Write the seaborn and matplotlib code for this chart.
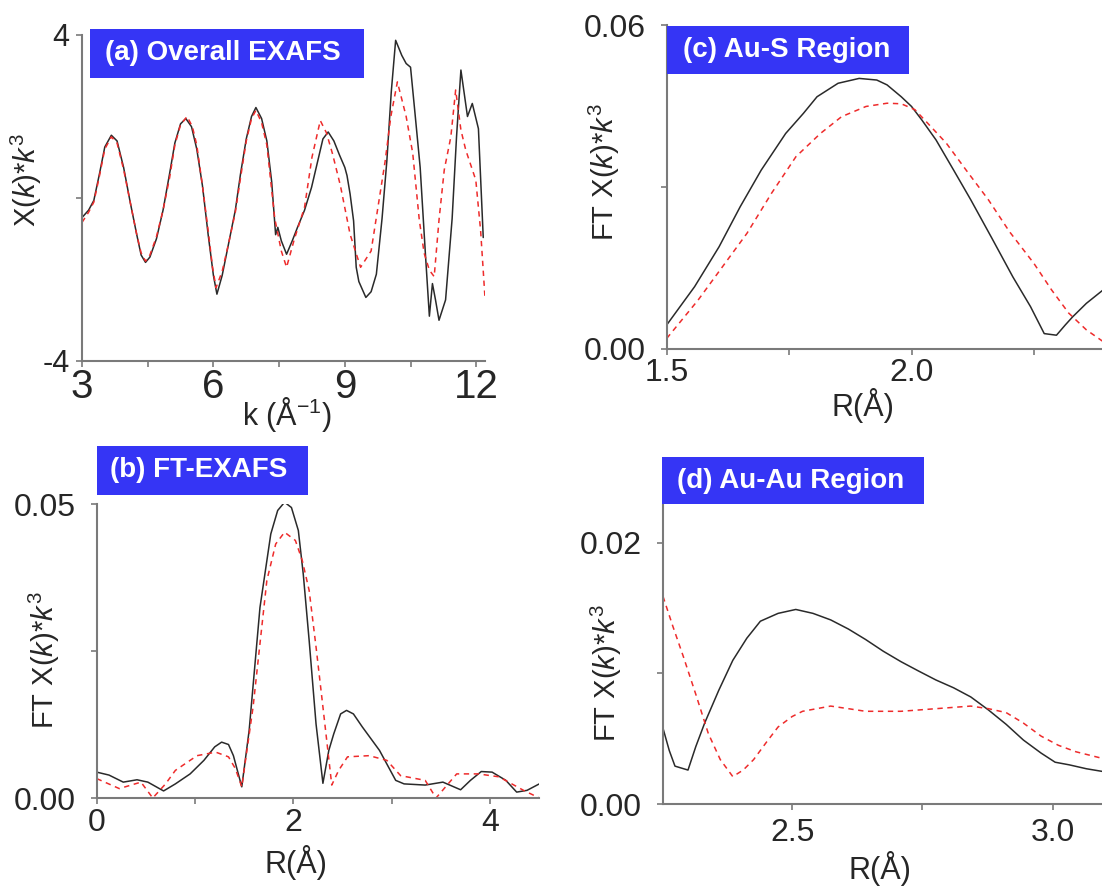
import numpy as np
import pandas as pd
import matplotlib
matplotlib.use("Agg")
import matplotlib.pyplot as plt
import seaborn as sns
from matplotlib.patches import Rectangle

# ---------------- data ----------------
# (a) Overall EXAFS : k (1/Å) vs chi(k)*k^3
a_exp_k = [3.0, 3.15, 3.27, 3.4, 3.52, 3.67, 3.8, 3.95, 4.1, 4.25, 4.35, 4.45, 4.55, 4.7, 4.85,
           5.0, 5.12, 5.25, 5.37, 5.5, 5.62, 5.75, 5.88, 6.0, 6.08, 6.2, 6.35, 6.5, 6.62, 6.75,
           6.87, 6.97, 7.1, 7.22, 7.33, 7.42, 7.47, 7.55, 7.67, 7.8, 7.92, 8.08, 8.24, 8.38, 8.5,
           8.62, 8.75, 8.88, 9.0, 9.05, 9.12, 9.2, 9.26, 9.32, 9.48, 9.6, 9.72, 9.85, 9.96, 10.06,
           10.16, 10.3, 10.4, 10.5, 10.6, 10.72, 10.84, 10.93, 11.0, 11.07, 11.15, 11.3, 11.45,
           11.55, 11.65, 11.8, 11.91, 12.05, 12.16]
a_exp_y = [-0.48, -0.3, -0.06, 0.6, 1.25, 1.54, 1.4, 0.75, -0.1, -0.9, -1.4, -1.58, -1.45, -1.0, -0.3,
           0.6, 1.35, 1.82, 1.95, 1.75, 1.2, 0.3, -0.9, -1.9, -2.36, -1.9, -1.1, -0.3, 0.6, 1.45,
           2.0, 2.22, 1.95, 1.4, 0.4, -0.9, -0.72, -1.05, -1.38, -1.05, -0.72, -0.3, 0.26, 0.9, 1.45,
           1.62, 1.4, 1.05, 0.75, 0.55, 0.1, -0.56, -1.7, -2.05, -2.44, -2.3, -1.87, -0.5, 0.92, 2.6,
           3.87, 3.5, 3.3, 3.21, 2.1, 0.75, -1.38, -2.9, -2.1, -2.5, -3.0, -2.5, -0.5,
           1.5, 3.14, 2.0, 2.32, 1.7, -0.97]
a_fit_k = [3.0, 3.15, 3.27, 3.4, 3.52, 3.67, 3.8, 3.95, 4.1, 4.25, 4.35, 4.45, 4.55, 4.7, 4.85,
           5.0, 5.12, 5.25, 5.4, 5.52, 5.62, 5.75, 5.88, 5.98, 6.06, 6.2, 6.35, 6.5, 6.62, 6.75,
           6.87, 6.97, 7.1, 7.22, 7.4, 7.55, 7.67, 7.85, 8.08, 8.25, 8.44, 8.58, 8.72, 8.9, 9.12,
           9.36, 9.6, 9.92, 10.05, 10.2, 10.4, 10.55, 10.7, 10.81, 10.93, 11.04, 11.15, 11.27,
           11.42, 11.53, 11.65, 11.76, 11.99, 12.1, 12.2]
a_fit_y = [-0.6, -0.35, -0.1, 0.55, 1.2, 1.5, 1.35, 0.7, -0.1, -0.9, -1.35, -1.55, -1.4, -0.95, -0.3,
           0.5, 1.3, 1.8, 2.0, 1.75, 1.3, 0.3, -0.8, -1.7, -2.2, -1.8, -1.1, -0.35, 0.5, 1.4,
           1.95, 2.15, 1.85, 1.3, -0.5, -1.3, -1.7, -1.0, -0.23, 1.0, 1.9, 1.6, 1.08, 0.3, -0.89,
           -1.7, -1.3, 0.9, 2.0, 2.85, 2.0, 1.1, -0.54, -1.35, -1.77, -1.93, -0.54, 0.69,
           1.5, 2.65, 1.67, 1.18, 0.44, -0.8, -2.45]

# (b) FT-EXAFS : R (Å) vs |FT|
b_exp_r = [0.0, 0.125, 0.27, 0.41, 0.52, 0.68, 0.8, 0.95, 1.09, 1.2, 1.27, 1.34, 1.39, 1.475, 1.55,
           1.66, 1.77, 1.84, 1.91, 1.98, 2.05, 2.1, 2.16, 2.23, 2.30, 2.36, 2.41, 2.48, 2.54, 2.61,
           2.70, 2.875, 3.04, 3.125, 3.34, 3.52, 3.70, 3.80, 3.91, 4.02, 4.16, 4.27, 4.375, 4.5]
b_exp_y = [0.0044, 0.0039, 0.0027, 0.0031, 0.0027, 0.0012, 0.0024, 0.0041, 0.0064, 0.0087, 0.0095,
           0.0091, 0.0072, 0.0019, 0.0115, 0.0324, 0.0449, 0.0489, 0.0503, 0.0494, 0.0455, 0.0381,
           0.0268, 0.0126, 0.0025, 0.0081, 0.0109, 0.0143, 0.0149, 0.0143, 0.0121, 0.0081, 0.003,
           0.0024, 0.0022, 0.0027, 0.0014, 0.003, 0.0045, 0.0044, 0.003, 0.001, 0.0013, 0.0024]
b_fit_r = [0.0, 0.23, 0.45, 0.57, 0.70, 0.8, 1.02, 1.21, 1.34, 1.41, 1.475, 1.59, 1.73, 1.82, 1.91,
           2.02, 2.09, 2.16, 2.23, 2.30, 2.39, 2.46, 2.55, 2.77, 2.95, 3.09, 3.34, 3.45, 3.66, 3.88,
           4.09, 4.34, 4.5]
b_fit_y = [0.0033, 0.0016, 0.0027, 0.0, 0.0024, 0.0047, 0.0072, 0.0078, 0.007, 0.005, 0.0019, 0.0155,
           0.037, 0.0432, 0.0452, 0.0438, 0.0404, 0.0353, 0.0257, 0.0155, 0.0022, 0.0047, 0.007,
           0.0072, 0.0064, 0.0038, 0.003, 0.0, 0.0041, 0.0041, 0.0036, 0.0013, 0.0]

# (c) Au-S region
c_exp_r = [1.5, 1.557, 1.607, 1.65, 1.693, 1.743, 1.779, 1.807, 1.85, 1.893, 1.929, 1.95, 1.979, 2.0,
           2.021, 2.05, 2.086, 2.121, 2.164, 2.207, 2.243, 2.271, 2.296, 2.314, 2.329, 2.357, 2.39]
c_exp_y = [0.0044, 0.0115, 0.0189, 0.0263, 0.0331, 0.0399, 0.0436, 0.0467, 0.0492, 0.0501, 0.0498,
           0.0489, 0.0467, 0.0449, 0.0424, 0.0387, 0.0331, 0.0276, 0.0205, 0.0133, 0.0078, 0.0028,
           0.0025, 0.0044, 0.0059, 0.0084, 0.0108]
c_fit_r = [1.5, 1.564, 1.614, 1.664, 1.714, 1.764, 1.814, 1.857, 1.907, 1.95, 1.979, 2.007, 2.036,
           2.071, 2.114, 2.157, 2.2, 2.25, 2.286, 2.321, 2.357, 2.39]
c_fit_y = [0.0019, 0.009, 0.0152, 0.0214, 0.0288, 0.0356, 0.0399, 0.043, 0.0449, 0.0455, 0.0454,
           0.0443, 0.0415, 0.0381, 0.0328, 0.0276, 0.0217, 0.0158, 0.0109, 0.0066, 0.0035, 0.0014]

# (d) Au-Au region
d_exp_r = [2.252, 2.264, 2.275, 2.30, 2.315, 2.332, 2.359, 2.386, 2.413, 2.439, 2.473, 2.507, 2.54,
           2.574, 2.608, 2.641, 2.675, 2.709, 2.742, 2.776, 2.81, 2.843, 2.877, 2.911, 2.944, 2.978,
           3.005, 3.032, 3.065, 3.095]
d_exp_y = [0.0058, 0.0041, 0.0029, 0.0026, 0.0044, 0.0062, 0.0087, 0.011, 0.0127, 0.014, 0.0146,
           0.0149, 0.0146, 0.0141, 0.0134, 0.0126, 0.0117, 0.0109, 0.0102, 0.0095, 0.0089, 0.0082,
           0.0072, 0.0061, 0.0049, 0.0039, 0.0032, 0.003, 0.0027, 0.0025]
d_fit_r = [2.252, 2.271, 2.291, 2.315, 2.339, 2.362, 2.386, 2.406, 2.426, 2.45, 2.473, 2.5, 2.52,
           2.547, 2.574, 2.608, 2.641, 2.709, 2.776, 2.843, 2.877, 2.911, 2.944, 2.978, 3.011,
           3.045, 3.095]
d_fit_y = [0.0159, 0.0136, 0.0113, 0.0084, 0.0054, 0.0034, 0.0021, 0.0026, 0.0034, 0.0047, 0.0059,
           0.0067, 0.0071, 0.0073, 0.0075, 0.0073, 0.0071, 0.0071, 0.0073, 0.0075, 0.0073, 0.007,
           0.0062, 0.0052, 0.0045, 0.004, 0.0035]

panel_titles = ["(a) Overall EXAFS", "(b) FT-EXAFS", "(c) Au-S Region", "(d) Au-Au Region"]

# ---------------- style ----------------
sns.set_style("ticks")
plt.rcParams['font.family'] = ['Liberation Sans', 'DejaVu Sans']
plt.rcParams['mathtext.fontset'] = 'custom'
plt.rcParams['mathtext.rm'] = 'Liberation Sans'
plt.rcParams['mathtext.it'] = 'Liberation Sans:italic'
plt.rcParams['mathtext.bf'] = 'Liberation Sans:bold'

EXP_C = '#2a2a2a'
FIT_C = '#ee2b2b'
SPINE_C = '#7a7a7a'
BOX_C = '#3535f5'

W, H = 1102.0, 888.0
fig = plt.figure(figsize=(11.02, 8.88), dpi=100)


def add_ax(l, t, r, b):
    return fig.add_axes([l / W, 1 - b / H, (r - l) / W, (b - t) / H])


axA = add_ax(82, 35, 485, 361)
axB = add_ax(96.7, 504, 539.3, 798)
axC = add_ax(666.7, 25, 1102, 348.7)
axD = add_ax(663, 505, 1102, 804)

pairs = [
    (axA, a_exp_k, a_exp_y, a_fit_k, a_fit_y),
    (axB, b_exp_r, b_exp_y, b_fit_r, b_fit_y),
    (axC, c_exp_r, c_exp_y, c_fit_r, c_fit_y),
    (axD, d_exp_r, d_exp_y, d_fit_r, d_fit_y),
]
for ax, xe, ye, xf, yf in pairs:
    sns.lineplot(x=xe, y=ye, ax=ax, color=EXP_C, linewidth=1.1, estimator=None, sort=False)
    sns.lineplot(x=xf, y=yf, ax=ax, color=FIT_C, linewidth=1.1, estimator=None, sort=False,
                 linestyle=(0, (3.5, 3)))
    for s in ['top', 'right']:
        ax.spines[s].set_visible(False)
    for s in ['left', 'bottom']:
        ax.spines[s].set_color(SPINE_C)
        ax.spines[s].set_linewidth(1.5)
    ax.tick_params(which='both', direction='out', length=4, width=1.2, color=SPINE_C)
    ax.set_facecolor('none')

ylab = "X(" + r"$\mathit{k}$" + ")*" + r"$\mathit{k}^{3}$"
ftlab = "FT X(" + r"$\mathit{k}$" + ")*" + r"$\mathit{k}^{3}$"

# panel a
axA.set_xlim(3, 12.2)
axA.set_ylim(-4, 4)
axA.set_xticks([3, 6, 9, 12])
axA.set_xticks([4.5, 7.5, 10.5], minor=True)
axA.set_yticks([-4, 0, 4])
axA.set_yticklabels(['-4', '', '4'])
axA.tick_params(axis='x', labelsize=29, pad=1)
axA.tick_params(axis='y', labelsize=22, pad=5)
axA.set_xlabel(r"k (Å$^{\mathregular{-1}}$)", fontsize=22)
axA.xaxis.set_label_coords(0.51, -0.105)
axA.set_ylabel(ylab, fontsize=21)
axA.yaxis.set_label_coords(-0.095, 0.555)

# panel b
axB.set_xlim(0, 4.5)
axB.set_ylim(0, 0.05)
axB.set_xticks([0, 2, 4])
axB.set_xticks([1, 3], minor=True)
axB.set_yticks([0, 0.025, 0.05])
axB.set_yticklabels(['0.00', '', '0.05'])
axB.tick_params(axis='both', labelsize=23)
axB.tick_params(axis='y', pad=11)
axB.tick_params(axis='x', pad=3)
axB.set_xlabel("R(Å)", fontsize=22)
axB.xaxis.set_label_coords(0.45, -0.16)
axB.set_ylabel(ftlab, fontsize=21)
axB.yaxis.set_label_coords(-0.079, 0.469)

# panel c
axC.set_xlim(1.5, 2.389)
axC.set_ylim(0, 0.06)
axC.set_xticks([1.5, 2.0])
axC.set_xticklabels(['1.5', '2.0'])
axC.set_xticks([1.75, 2.25], minor=True)
axC.set_yticks([0, 0.03, 0.06])
axC.set_yticklabels(['0.00', '', '0.06'])
axC.tick_params(axis='both', labelsize=23)
axC.tick_params(axis='y', pad=11)
axC.tick_params(axis='x', pad=3)
axC.set_xlabel("R(Å)", fontsize=22)
axC.xaxis.set_label_coords(0.451, -0.122)
axC.set_ylabel(ftlab, fontsize=21)
axC.yaxis.set_label_coords(-0.103, 0.546)

# panel d
axD.set_xlim(2.252, 3.095)
axD.set_ylim(0, 0.0229)
axD.set_xticks([2.5, 3.0])
axD.set_xticklabels(['2.5', '3.0'])
axD.set_xticks([2.75], minor=True)
axD.set_yticks([0, 0.01, 0.02])
axD.set_yticklabels(['0.00', '', '0.02'])
axD.tick_params(axis='both', labelsize=23)
axD.tick_params(axis='y', pad=11)
axD.tick_params(axis='x', pad=6)
axD.set_xlabel("R(Å)", fontsize=22)
axD.xaxis.set_label_coords(0.494, -0.158)
axD.set_ylabel(ftlab, fontsize=21)
axD.yaxis.set_label_coords(-0.0895, 0.438)

# panel title boxes (figure pixel layout)
boxes = [
    (89.6, 29.0, 363.7, 77.6, 105.3),
    (96.5, 445.7, 307.7, 495.0, 110.5),
    (666.8, 26.0, 908.6, 74.0, 682.6),
    (661.6, 456.7, 924.4, 504.3, 677.0),
]
for (l, t, r, b, tx), title in zip(boxes, panel_titles):
    fig.patches.append(Rectangle((l / W, 1 - b / H), (r - l) / W, (b - t) / H,
                                 transform=fig.transFigure, facecolor=BOX_C,
                                 edgecolor='none', zorder=5))
    fig.text(tx / W, 1 - ((t + b) / 2) / H, title, color='white', fontsize=20,
             fontweight='bold', ha='left', va='center', zorder=6)

fig.savefig("out.png", dpi=100)
